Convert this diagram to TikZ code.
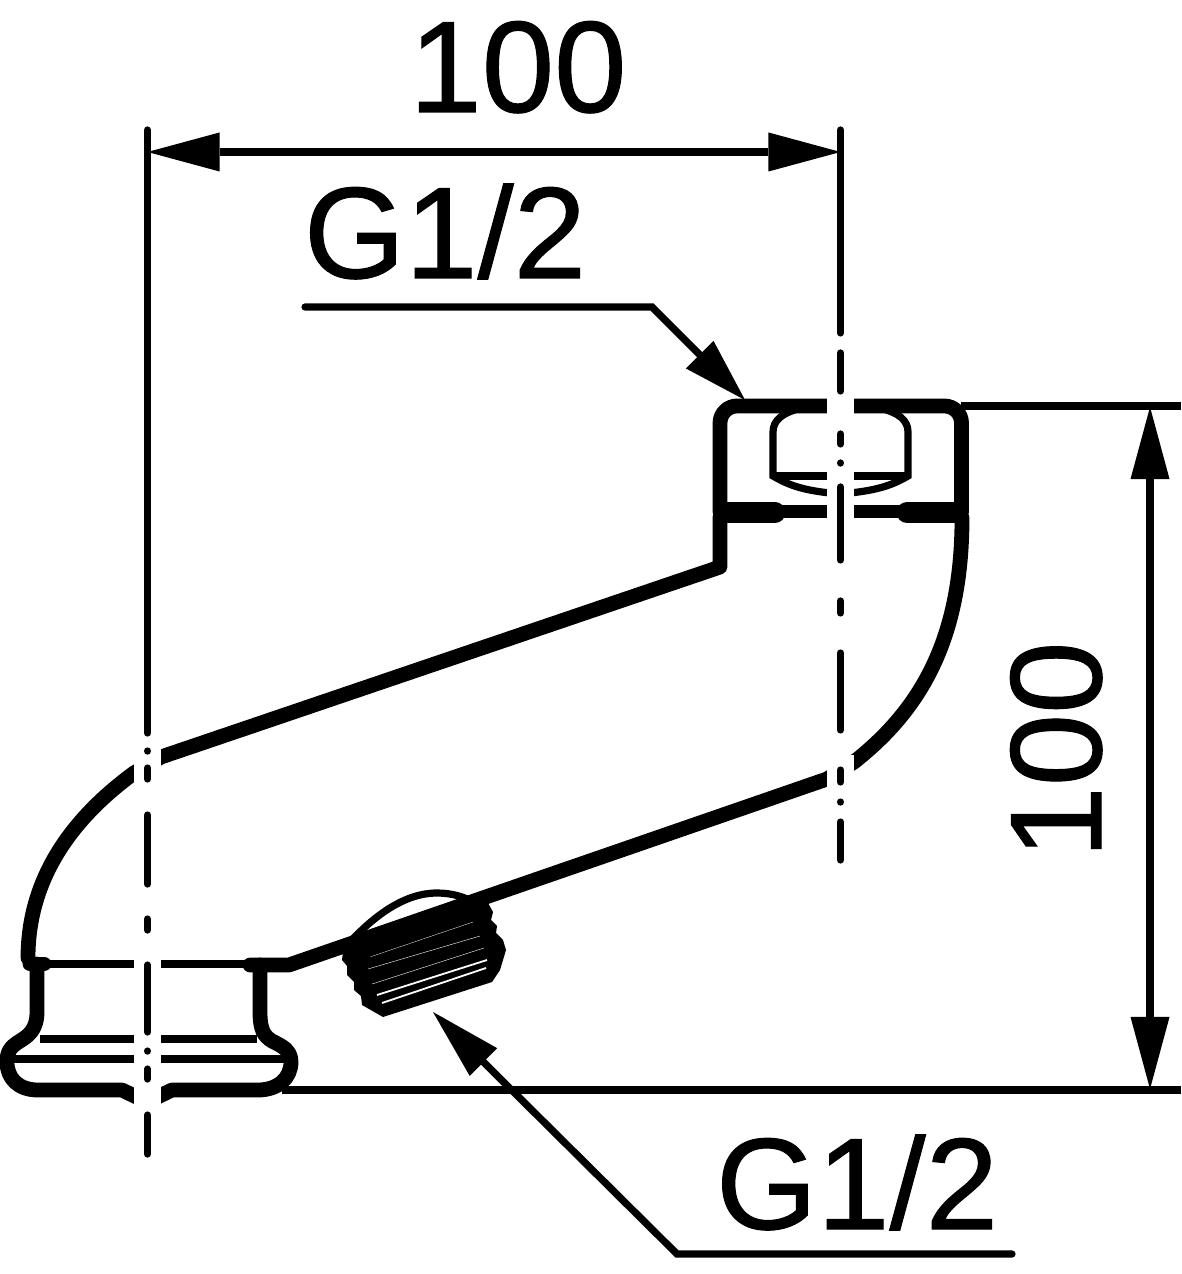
\documentclass[tikz,border=0pt]{standalone}
\usepackage{fontspec}
\setmainfont[FakeBold=0.8]{Liberation Sans}
\usetikzlibrary{arrows.meta}
\tikzset{
  contour/.style={line width=0.148cm, line join=round, line cap=round},
  edgeline/.style={line width=0.072cm},
  dimline/.style={line width=0.072cm, line join=miter},
  axisline/.style={line width=0.072cm, line cap=round},
  dimtip/.style={{Triangle[length=0.72cm,width=0.39cm,line width=0pt]}-{Triangle[length=0.72cm,width=0.39cm,line width=0pt]}},
  leadertip/.style={-{Triangle[length=#1,width=0.39cm,line width=0pt]}},
  dimlabel/.style={font=\fontsize{37}{42}\selectfont, inner sep=0pt, anchor=base}
}
\begin{document}
\begin{tikzpicture}[x=0.01cm,y=-0.01cm]
\useasboundingbox (0,0) rectangle (1181,1274);
% Pipe between the two ends
\draw[contour] (720,517) -- (720,567) -- (161,757) -- (134,773) .. controls (70,820) and (28,880) .. (28,958);
\draw[contour] (962,518) .. controls (962,640) and (920,710) .. (854,762) -- (827,779) -- (289,965) -- (250,965);
% Nut at the top
\draw[contour, rounded corners=0.17cm] (720,512) -- (720,406) -- (961.5,406) -- (961.5,512);
\draw[line width=0.13cm] (720,512) -- (961.5,512);
\draw[line width=0.21cm, line cap=round] (727,512.5) -- (775,512.5);
\draw[line width=0.21cm, line cap=round] (907,512.5) -- (955,512.5);
% Inner part of the nut
\draw[edgeline] (798,409) .. controls (783,413) and (773,420) .. (773,432) -- (773,476) .. controls (790,486) and (805,491) .. (840,494) .. controls (875,491) and (891,486) .. (908,476) -- (908,432) .. controls (908,420) and (898,413) .. (883,409);
\draw[edgeline] (773,476) -- (908,476);
% Flange at the bottom
\draw[contour] (30,964) -- (44,964);
\draw[contour] (37,964) -- (37,1012) .. controls (37,1030) and (28,1036) .. (20,1041) .. controls (10,1047) and (7,1052) .. (7,1062) .. controls (7,1078) and (18,1090) .. (38,1090) -- (122,1090) -- (147,1102) -- (172,1090) -- (258,1090) .. controls (278,1090) and (291,1078) .. (291,1062) .. controls (291,1050) and (282,1046) .. (272,1041) .. controls (264,1036) and (260,1030) .. (260,1012) -- (260,965);
\draw[edgeline] (40,964) -- (255,964);
\draw[edgeline] (40,1039) -- (257,1039);
\draw[edgeline] (12,1059) -- (286,1059);
% Thread of the side outlet
\draw[edgeline] (350,942) .. controls (375,915) and (405,893) .. (437,893) .. controls (452,893) and (465,897) .. (475,903);
\fill[black] (343,952) -- (488,903) -- (493,912) -- (491,920) -- (497,926) -- (496,933) -- (503,940) -- (506,950) -- (500,970) -- (492,982) -- (383,1017) -- (362,1005) -- (361,996) -- (354,990) -- (354,982) -- (347,975) -- (347,966) -- (342,960) -- cycle;
\draw[white, line width=0.003cm] (370,957) -- (473,922);
\draw[white, line width=0.004cm] (368,969) -- (480,936);
\draw[white, line width=0.004cm] (372,984) -- (484,948);
\draw[white, line width=0.018cm] (377,995) -- (487,960);
\draw[white, line width=0.018cm] (382,1003) -- (486,968);
% Gaps round the axes
\fill[white] (134,740) rectangle (161,1110);
\fill[white] (827,395) rectangle (854,525);
\fill[white] (827,755) rectangle (854,795);
% Axes
\foreach \a/\b in {130/733, 751/751.1, 768/779, 815/884, 919/930, 965/1032, 1051/1051.1, 1069/1079, 1115/1154}
  \draw[axisline] (147.5,\a) -- (147.5,\b);
\foreach \a/\b in {130/333, 353/391, 434/444, 463/463.1, 487/560, 601/613, 653/730, 770/782, 802/802.1, 822/860}
  \draw[axisline] (840.5,\a) -- (840.5,\b);
% Width dimension
\coordinate (widthA) at (147.5,152);
\coordinate (widthB) at (840.5,152);
\draw[dimline, dimtip] (widthA) -- (widthB);
\node[dimlabel] (widthtext) at (518,112) {100};
% Height dimension
\coordinate (heightA) at (1150,407);
\coordinate (heightB) at (1150,1089);
\coordinate (witnessA) at (961,406);
\coordinate (witnessB) at (1181,406);
\coordinate (witnessC) at (282,1090);
\coordinate (witnessD) at (1181,1090);
\draw[dimline] (witnessA) -- (witnessB);
\draw[dimline] (witnessC) -- (witnessD);
\draw[dimline, dimtip] (heightA) -- (heightB);
\node[dimlabel, rotate=90] (heighttext) at (1101,750) {100};
% Thread labels with their leaders
\node[dimlabel] (uppertext) at (445,278) {G1/2};
\coordinate (upperstart) at (305,307);
\coordinate (upperknee) at (652,307);
\coordinate (uppertip) at (745,400);
\draw[dimline, line cap=round, leadertip=0.64cm] (upperstart) -- (upperknee) -- (uppertip);
\node[dimlabel] (lowertext) at (857,1229) {G1/2};
\coordinate (lowerstart) at (1012,1254);
\coordinate (lowerknee) at (677,1254);
\coordinate (lowertip) at (433,1012);
\draw[dimline, line cap=round, leadertip=0.71cm] (lowerstart) -- (lowerknee) -- (lowertip);
\end{tikzpicture}
\end{document}
